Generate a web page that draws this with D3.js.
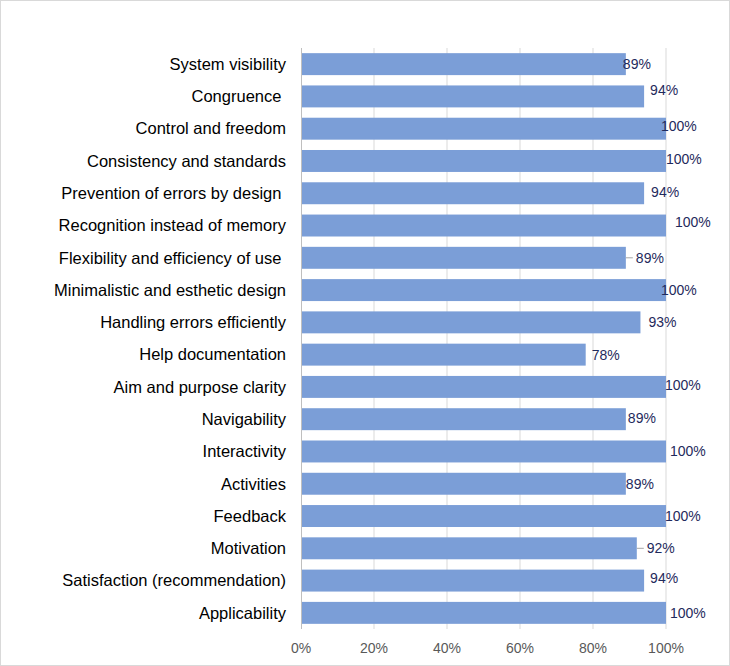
<!DOCTYPE html>
<html><head><meta charset="utf-8">
<script src="https://cdn.jsdelivr.net/npm/d3@7"></script>
<style>body{margin:0;background:#fff}svg{display:block;font-family:"Liberation Sans",Arial,sans-serif}.cat{white-space:pre}</style>
</head><body><svg id="c" width="730" height="666"></svg>
<script>
const categories = ["System visibility","Congruence ","Control and freedom","Consistency and standards","Prevention of errors by design ","Recognition instead of memory","Flexibility and efficiency of use ","Minimalistic and esthetic design","Handling errors efficiently","Help documentation","Aim and purpose clarity","Navigability","Interactivity","Activities","Feedback","Motivation","Satisfaction (recommendation)","Applicability"];
const values = [89,94,100,100,94,100,89,100,93,78,100,89,100,89,100,92,94,100];
const ticks = [0,20,40,60,80,100];
// manual data-label offsets (layout, px) as in original
const labelDx = [-3,6,-5,0,7,9,10,-5,8,6,-1,2,4,0,-1,10,6,4];
const labelDy = [0,-6,-3,-2,-1,-3,0,0,0,0,-2,-1,0,0,0,0,-2,0];
const leader = [false,false,false,false,false,false,true,false,false,false,false,false,false,false,false,true,false,false];

const svg = d3.select("#c");
svg.append("rect").attr("x",0.5).attr("y",0.5).attr("width",729).attr("height",665)
  .attr("fill","#fff").attr("stroke","#d9d9d9");
const x = d3.scaleLinear().domain([0,100]).range([301,666]);
const y = d3.scaleBand().domain(categories).range([48,629]).paddingInner(0.32).paddingOuter(0.16);

svg.append("g").selectAll("line").data(ticks.slice(1)).join("line")
  .attr("x1",d=>x(d)).attr("x2",d=>x(d)).attr("y1",48).attr("y2",629)
  .attr("stroke","#d9d9d9").attr("stroke-width",1);

svg.append("g").selectAll("rect").data(values).join("rect")
  .attr("x",x(0)).attr("y",(d,i)=>y(categories[i]))
  .attr("width",d=>x(d)-x(0)).attr("height",y.bandwidth())
  .attr("fill","#7b9ed7");

svg.append("line").attr("x1",301.5).attr("x2",301.5).attr("y1",48).attr("y2",629)
  .attr("stroke","#bfbfbf");

svg.append("g").selectAll("line").data(values.map((v,i)=>[v,i]).filter(d=>leader[d[1]])).join("line")
  .attr("x1",d=>x(d[0])).attr("x2",d=>x(d[0])+labelDx[d[1]]-3)
  .attr("y1",d=>y(categories[d[1]])+y.bandwidth()/2).attr("y2",d=>y(categories[d[1]])+y.bandwidth()/2)
  .attr("stroke","#a6a6a6");

svg.append("g").selectAll("text").data(values).join("text")
  .attr("x",(d,i)=>x(d)+labelDx[i])
  .attr("y",(d,i)=>y(categories[i])+y.bandwidth()/2+labelDy[i])
  .attr("dy","0.35em").attr("font-size",14).attr("fill","#1f2a5c")
  .text(d=>d+"%");

svg.append("g").selectAll("text").data(categories).join("text")
  .attr("class","cat")
  .attr("x",286).attr("y",d=>y(d)+y.bandwidth()/2).attr("dy","0.35em")
  .attr("text-anchor","end").attr("font-size",16.5).attr("fill","#000")
  .text(d=>d);

svg.append("g").selectAll("text").data(ticks).join("text")
  .attr("x",d=>x(d)).attr("y",648).attr("dy","0.35em").attr("text-anchor","middle")
  .attr("font-size",14).attr("fill","#595959").text(d=>d+"%");
</script></body></html>
